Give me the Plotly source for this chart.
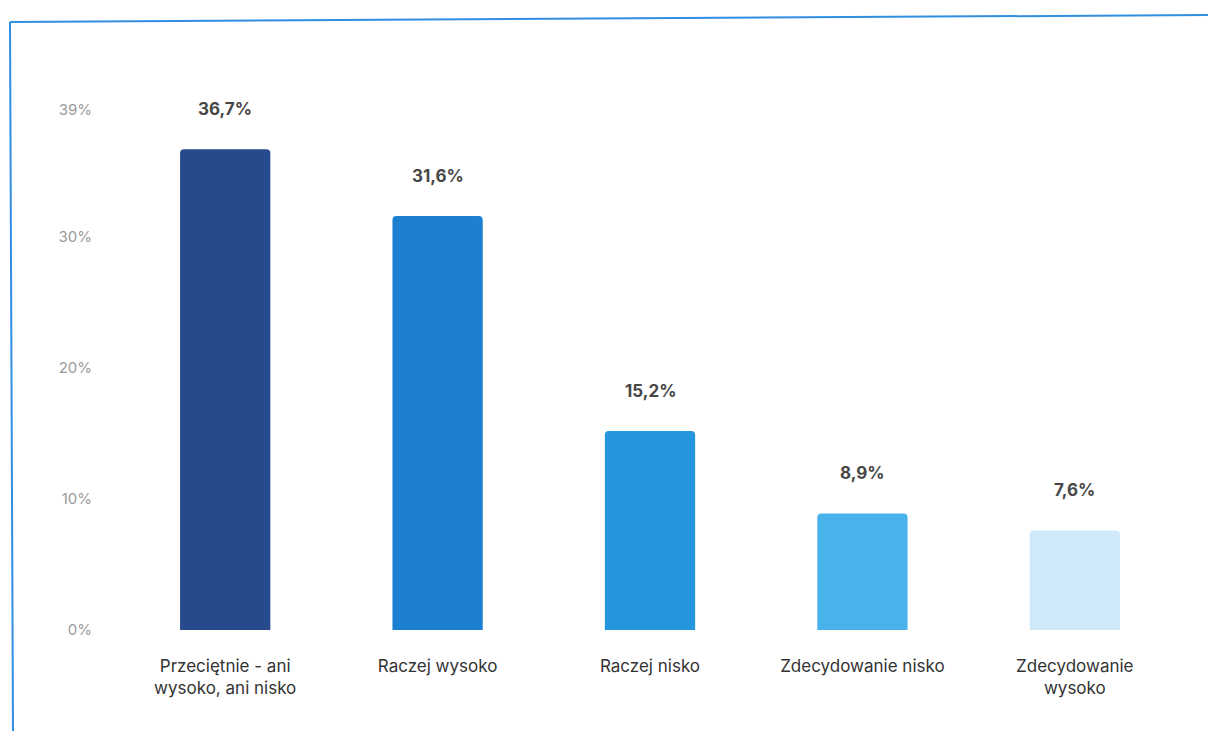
import plotly.graph_objects as go

categories = ["Przeciętnie - ani<br>wysoko, ani nisko", "Raczej wysoko", "Raczej nisko",
              "Zdecydowanie nisko", "Zdecydowanie<br>wysoko"]
values = [36.7, 31.6, 15.2, 8.9, 7.6]
value_labels = ["36,7%", "31,6%", "15,2%", "8,9%", "7,6%"]
bar_colors = ["#274a8c", "#1c7fd1", "#2595de", "#48b2ea", "#d0e9f9"]
tick_vals = [0, 10, 20, 30, 39.7]
tick_text = ["0%", "10%", "20%", "30%", "39%"]

W, H = 1208, 731
L, R, T, B = 119, 27, 110, 101
pw, ph = W - L - R, H - T - B

fig = go.Figure()
fig.add_trace(go.Bar(
    x=categories, y=values,
    marker=dict(color=bar_colors, line=dict(width=0)),
    hoverinfo="skip",
))
for c, v, t in zip(categories, values, value_labels):
    fig.add_annotation(x=c, y=v, text="<b>" + t + "</b>", showarrow=False, yshift=40,
                       font=dict(family="Inter, Roboto, sans-serif", size=17, color="#474747"),
                       xanchor="center", yanchor="middle")

def px2paper_x(px):
    return (px - L) / pw

def px2paper_y(py):
    return (H - B - py) / ph

# frame lines (scanned page border)
fig.add_shape(type="line", xref="paper", yref="paper",
              x0=px2paper_x(10), y0=px2paper_y(22), x1=px2paper_x(1210), y1=px2paper_y(15),
              line=dict(color="#2f8fe0", width=2))
fig.add_shape(type="line", xref="paper", yref="paper",
              x0=px2paper_x(10), y0=px2paper_y(22), x1=px2paper_x(13), y1=px2paper_y(735),
              line=dict(color="#2f8fe0", width=2))

fig.update_layout(
    width=W, height=H,
    margin=dict(l=L, r=R, t=T, b=B),
    paper_bgcolor="white", plot_bgcolor="white",
    bargap=0.575, barcornerradius=4,
    showlegend=False,
    font=dict(family="Inter, Roboto, sans-serif"),
    xaxis=dict(showgrid=False, showline=False, zeroline=False, ticks="",
               ticklabelstandoff=24,
               tickfont=dict(size=17, color="#333333")),
    yaxis=dict(range=[0, 39.7], tickvals=tick_vals, ticktext=tick_text,
               showgrid=False, showline=False, zeroline=False, ticks="",
               ticklabelstandoff=26,
               tickfont=dict(size=15, color="#9a9a9a")),
)
fig.write_html("out.html", config={"displayModeBar": False},
               post_script="document.body.style.margin='0';")
